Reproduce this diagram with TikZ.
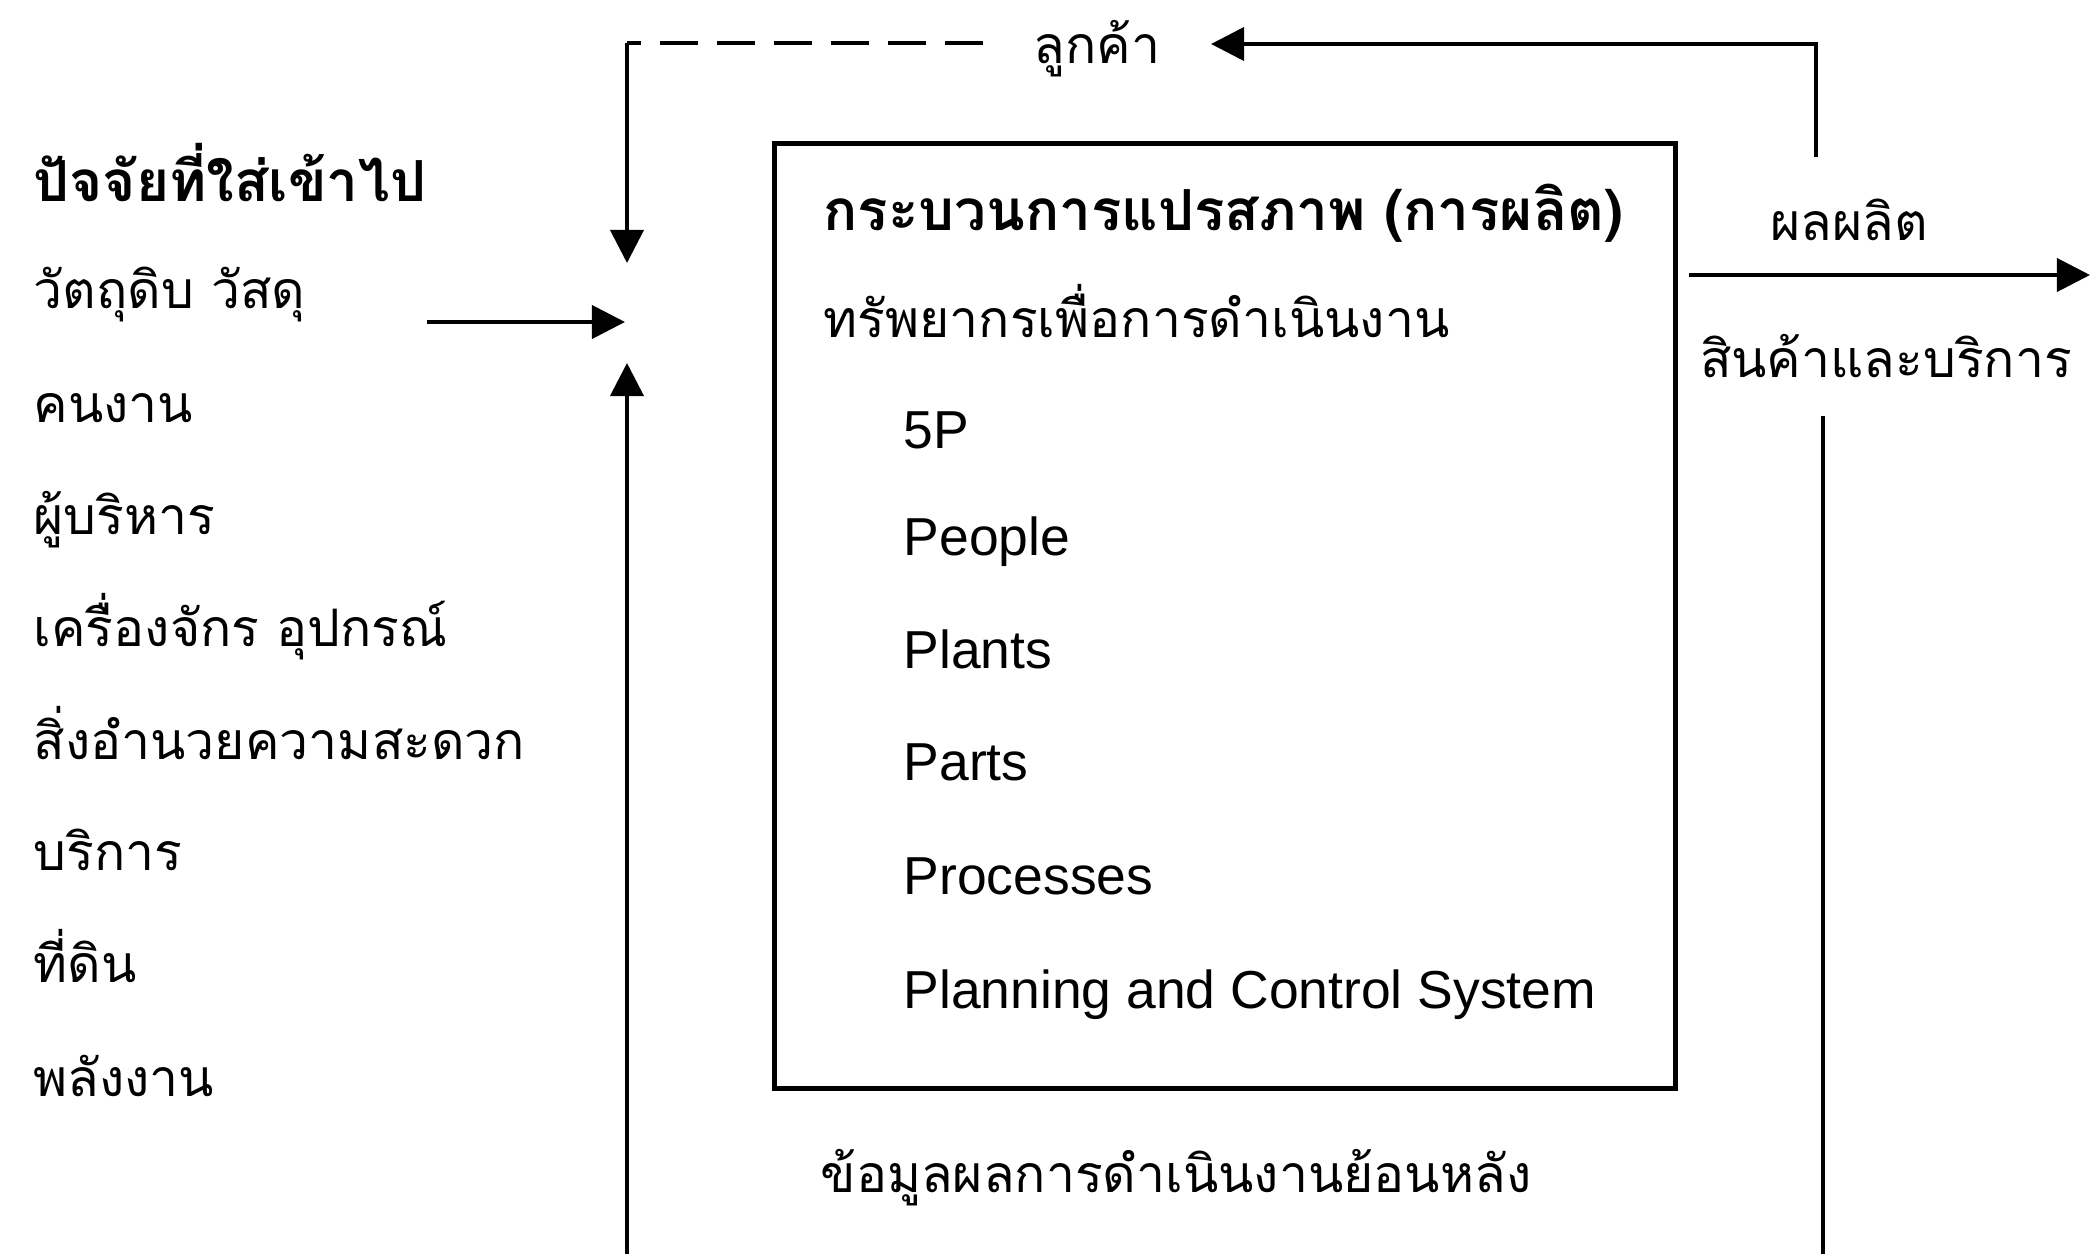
\documentclass[tikz,border=0pt]{standalone}
\usepackage{fontspec}
\setmainfont{Liberation Sans}
\newfontfamily\thai[Script=Thai]{Loma}
\usetikzlibrary{arrows.meta}

\begin{document}
\begin{tikzpicture}[x=0.01cm,y=-0.01cm,font=\thai\fontsize{14.7}{17}\selectfont,
  tx/.style={anchor=base west,inner sep=0},
  hd/.style={tx,font=\thai\bfseries\fontsize{16.1}{19}\selectfont},
  lat/.style={tx,font=\rmfamily\fontsize{15.2}{18}\selectfont},
  ln/.style={line width=1.1pt},
  arr/.style={ln,-{Triangle[length=0.33cm,width=0.33cm]}}]
\useasboundingbox (0,0) rectangle (2090,1254);
% inputs
\node[hd] (inhead) at (33,201) {ปัจจัยที่ใส่เข้าไป};
\foreach \nm/\txt/\yb in {raw/วัตถุดิบ วัสดุ/308,labor/คนงาน/422,mgr/ผู้บริหาร/534,mach/เครื่องจักร อุปกรณ์/646,
  fac/สิ่งอำนวยความสะดวก/759,serv/บริการ/870,land/ที่ดิน/982,energy/พลังงาน/1096}
  {\node[tx] (\nm) at (33,\yb) {\txt};}
% process box
\node[draw,line width=1.3pt,inner sep=0,minimum width=9cm,minimum height=9.44cm] (proc) at (1225,616) {};
\node[hd] (ptitle) at (823,230) {กระบวนการแปรสภาพ (การผลิต)};
\node[tx] (res) at (823,337) {ทรัพยากรเพื่อการดำเนินงาน};
\foreach \nm/\txt/\yb in {p5/5P/448,ppl/People/555,plt/Plants/668,prt/Parts/780,prc/Processes/894,pcs/Planning and Control System/1008}
  {\node[lat] (\nm) at (903,\yb) {\txt};}
\node[tx] (fb) at (820,1192) {ข้อมูลผลการดำเนินงานย้อนหลัง};
% outputs
\node[anchor=base] (out) at (1849,240) {ผลผลิต};
\node[anchor=base] (goods) at (1886,377) {สินค้าและบริการ};
\node[anchor=base,inner sep=0,inner xsep=0.5cm] (cust) at (1097,63) {ลูกค้า};
% loop
\coordinate (tl) at (627,43);
\coordinate (tr) at (1816,44);
\coordinate (jtop) at (627,263);
\coordinate (jbot) at (627,363);
\coordinate (jin) at (625,322);
\coordinate (src) at (427,322);
\coordinate (lb) at (627,1254);
\coordinate (rt) at (1823,416);
\coordinate (rb) at (1823,1254);
\coordinate (o1) at (1689,275);
\coordinate (o2) at (2090,275);
\draw[ln,dash pattern=on 10.8pt off 5.4pt] (cust.west |- tl) -- (tl);
\draw[arr] (tl) -- (jtop);
\draw[arr] (src) -- (jin);
\draw[arr] (lb) -- (jbot);
\draw[arr] (tr |- 0,157) -- (tr) -- (tr -| cust.east);
\draw[arr] (o1) -- (o2);
\draw[ln] (rt) -- (rb);
\end{tikzpicture}
\end{document}
